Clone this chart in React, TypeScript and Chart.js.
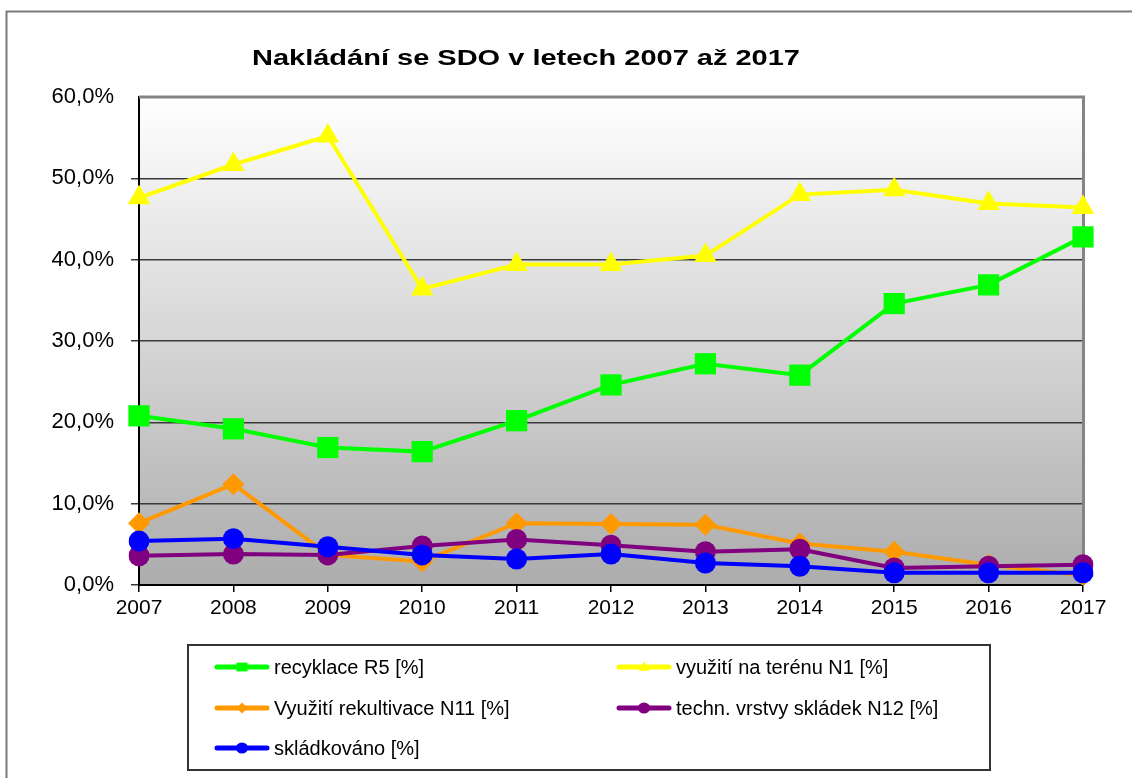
import { useEffect, useRef } from "react";
import { Chart, registerables } from "chart.js";

Chart.register(...registerables);

const years = ["2007", "2008", "2009", "2010", "2011", "2012", "2013", "2014", "2015", "2016", "2017"];
const recyklaceR5 = [20.8, 19.2, 16.9, 16.4, 20.2, 24.6, 27.2, 25.8, 34.6, 36.9, 42.8];
const vyuzitiTerenN1 = [47.6, 51.7, 55.2, 36.4, 39.4, 39.4, 40.5, 48.0, 48.6, 46.9, 46.4];
const rekultivaceN11 = [7.6, 12.4, 3.7, 2.9, 7.6, 7.5, 7.4, 5.1, 4.1, 2.5, 1.2];
const vrstvyN12 = [3.6, 3.8, 3.7, 4.8, 5.6, 4.9, 4.1, 4.4, 2.1, 2.3, 2.5];
const skladkovano = [5.4, 5.7, 4.7, 3.7, 3.2, 3.8, 2.7, 2.3, 1.5, 1.5, 1.5];

const labels = [
  "recyklace R5 [%]",
  "využití na terénu N1 [%]",
  "Využití rekultivace N11 [%]",
  "techn. vrstvy skládek N12 [%]",
  "skládkováno [%]",
];
const title = "Nakládání se SDO v letech 2007 až 2017";
const yMin = 0;
const yMax = 60;
const yStep = 10;

const FONT = "'Liberation Sans', Arial, sans-serif";

function drawMarker(ctx: CanvasRenderingContext2D, style: string, x: number, y: number, r: number, color: string) {
  ctx.save();
  ctx.fillStyle = color;
  ctx.beginPath();
  if (style === "rect") {
    ctx.rect(x - r, y - r * 0.8, 2 * r, 1.6 * r);
  } else if (style === "triangle") {
    ctx.moveTo(x, y - r);
    ctx.lineTo(x + r, y + r * 0.7);
    ctx.lineTo(x - r, y + r * 0.7);
    ctx.closePath();
  } else if (style === "rectRot") {
    ctx.moveTo(x - r, y);
    ctx.lineTo(x, y - r);
    ctx.lineTo(x + r, y);
    ctx.lineTo(x, y + r);
    ctx.closePath();
  } else {
    ctx.ellipse(x, y, r * 1.1, r, 0, 0, Math.PI * 2);
  }
  ctx.fill();
  ctx.restore();
}

const decorPlugin = {
  id: "decor",
  beforeDraw(chart: any) {
    const { ctx, chartArea } = chart;
    const { left, top, right, bottom } = chartArea;
    ctx.save();
    const g = ctx.createLinearGradient(0, top, 0, bottom);
    g.addColorStop(0, "#ffffff");
    g.addColorStop(1, "#acacac");
    ctx.fillStyle = g;
    ctx.fillRect(left, top, right - left, bottom - top);
    // outer frame
    ctx.strokeStyle = "#7a7a7a";
    ctx.lineWidth = 2;
    ctx.beginPath();
    ctx.moveTo(6.5, 790);
    ctx.lineTo(6.5, 11.5);
    ctx.lineTo(1140, 11.5);
    ctx.stroke();
    ctx.restore();
  },
  beforeDatasetsDraw(chart: any) {
    const { ctx, chartArea } = chart;
    const { left, top, right, bottom } = chartArea;
    ctx.save();
    ctx.strokeStyle = "#858585";
    ctx.lineWidth = 3;
    ctx.beginPath();
    ctx.moveTo(left, top);
    ctx.lineTo(right + 0.5, top);
    ctx.lineTo(right + 0.5, bottom);
    ctx.stroke();
    ctx.restore();
  },
  afterDraw(chart: any) {
    const { ctx } = chart;
    ctx.save();
    // title
    ctx.font = `bold 22px ${FONT}`;
    ctx.fillStyle = "#000";
    ctx.textBaseline = "middle";
    ctx.textAlign = "center";
    const tw = ctx.measureText(title).width;
    const sx = 548 / tw;
    ctx.translate(526, 59);
    ctx.scale(sx, 1);
    ctx.fillText(title, 0, 0);
    ctx.restore();

    // legend
    ctx.save();
    ctx.strokeStyle = "#333";
    ctx.lineWidth = 2;
    ctx.fillStyle = "#fff";
    ctx.fillRect(188, 645, 802, 125);
    ctx.strokeRect(188, 645, 802, 125);
    const rows = [667, 708, 748];
    const cols = [217, 619];
    chart.data.datasets.forEach((ds: any, i: number) => {
      const x0 = cols[i % 2];
      const y = rows[Math.floor(i / 2)];
      ctx.strokeStyle = ds.borderColor;
      ctx.lineWidth = 5;
      ctx.lineCap = "round";
      ctx.beginPath();
      ctx.moveTo(x0, y);
      ctx.lineTo(x0 + 50, y);
      ctx.stroke();
      drawMarker(ctx, ds.pointStyle, x0 + 25, y, 5.5, ds.pointBackgroundColor);
      ctx.font = `20px ${FONT}`;
      ctx.fillStyle = "#000";
      ctx.textBaseline = "middle";
      ctx.textAlign = "left";
      ctx.fillText(ds.label, x0 + 57, y + 1);
    });
    ctx.restore();
  },
};

export default function App() {
  const ref = useRef<HTMLCanvasElement | null>(null);
  useEffect(() => {
    if (!ref.current) return;
    const mk = (label: string, data: number[], color: string, style: string, r: number, order: number) => ({
      label,
      data,
      borderColor: color,
      backgroundColor: color,
      pointBackgroundColor: color,
      pointBorderColor: color,
      pointBorderWidth: 0,
      pointStyle: style,
      pointRadius: r,
      borderWidth: 4,
      tension: 0,
      order,
    });
    const chart = new Chart(ref.current, {
      type: "line",
      data: {
        labels: years,
        datasets: [
          mk(labels[0], recyklaceR5, "#00ff00", "rect", 15, 5),
          mk(labels[1], vyuzitiTerenN1, "#ffff00", "triangle", 13, 4),
          mk(labels[2], rekultivaceN11, "#ff9900", "rectRot", 11, 3),
          mk(labels[3], vrstvyN12, "#800080", "circle", 10.5, 2),
          mk(labels[4], skladkovano, "#0000ff", "circle", 10.5, 1),
        ] as any,
      },
      options: {
        responsive: false,
        animation: false,
        layout: { padding: { left: 0, top: 97, right: 49, bottom: 778 - 585 - 45 } },
        plugins: {
          legend: { display: false },
          title: { display: false },
          tooltip: { enabled: false },
        },
        scales: {
          x: {
            type: "category",
            offset: false,
            grid: { display: true, drawOnChartArea: false, drawTicks: true, tickLength: 7, color: "#000", lineWidth: 1.5 },
            border: { display: true, color: "#000", width: 2 },
            ticks: { color: "#000", font: { family: FONT, size: 21 }, padding: 4, maxRotation: 0, autoSkip: false },
            afterFit: (s: any) => { s.height = 45; },
          },
          y: {
            min: yMin,
            max: yMax,
            grid: {
              color: (c: any) => (c.tick && c.tick.value === yMax ? "rgba(0,0,0,0)" : "#3a3a3a"),
              lineWidth: 1.5,
              tickLength: 8,
            },
            border: { display: true, color: "#000", width: 2 },
            ticks: {
              stepSize: yStep,
              color: "#000",
              font: { family: FONT, size: 22 },
              padding: 17,
              callback: (v: any) => `${Number(v).toFixed(1).replace(".", ",")}%`,
            },
            afterFit: (s: any) => { s.width = 139; },
          },
        },
      } as any,
      plugins: [decorPlugin],
    });
    return () => chart.destroy();
  }, []);
  return (
    <div style={{ position: "absolute", left: 0, top: 0, width: 1132, height: 778, background: "#fff" }}>
      <canvas ref={ref} width={1132} height={778} style={{ display: "block" }} />
    </div>
  );
}
